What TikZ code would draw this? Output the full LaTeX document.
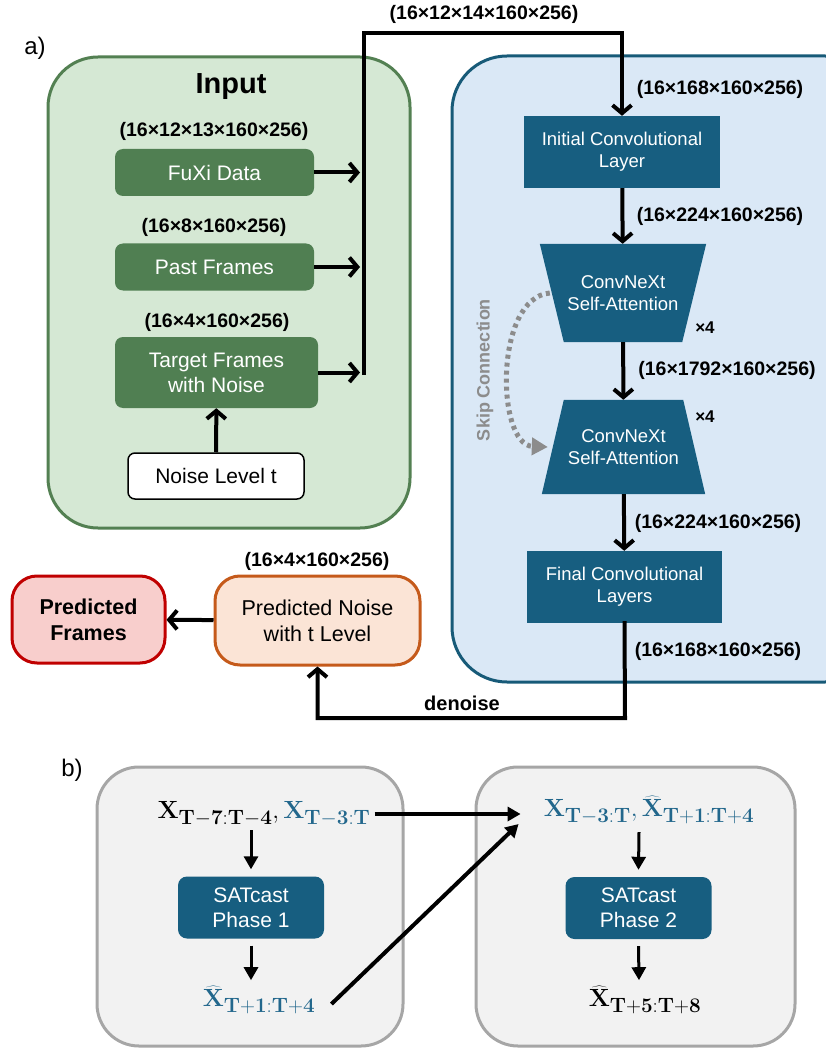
\documentclass[tikz,border=0pt]{standalone}
\usepackage[no-math]{fontspec}
\setmainfont{Liberation Sans}
\usetikzlibrary{arrows.meta,positioning}
\newcommand\bsub[1]{_{\mbox{\fontsize{20}{22}\selectfont$\medmuskip=0mu\thickmuskip=0mu\mathbf{#1}$}}}
\definecolor{gfill}{HTML}{D5E8D4}
\definecolor{gline}{HTML}{538052}
\definecolor{gdark}{HTML}{507F52}
\definecolor{bfill}{HTML}{DAE8F6}
\definecolor{bline}{HTML}{175A78}
\definecolor{bdark}{HTML}{175E80}
\definecolor{pfill}{HTML}{FBE4D6}
\definecolor{pline}{HTML}{C55A1B}
\definecolor{rfill}{HTML}{F8CECC}
\definecolor{rline}{HTML}{C00000}
\definecolor{kfill}{HTML}{F2F2F2}
\definecolor{kline}{HTML}{A6A6A6}
\definecolor{xblue}{HTML}{22678C}
\definecolor{skipc}{HTML}{8C8C8C}
\tikzset{
  gbox/.style={fill=gdark, rounded corners=8pt, text=white, align=center,
    font=\fontsize{21}{25}\selectfont, minimum height=47pt},
  cbox/.style={fill=bdark, text=white, align=center,
    font=\fontsize{18.5}{22}\selectfont},
  dim/.style={font=\bfseries\fontsize{19.5}{23}\selectfont},
  arr/.style={line width=4pt, -{Straight Barb[length=8pt,width=19pt]}},
  barr/.style={line width=4pt, -{Triangle[length=13pt,width=14pt]}},
  mth/.style={font=\fontsize{25}{29}\selectfont, inner sep=0pt}
}
\begin{document}
\begin{tikzpicture}[x=1pt,y=-1pt]
\useasboundingbox (0,0) rectangle (826,1048);
% a) panels
\node[font=\fontsize{24}{28}\selectfont] (la) at (35,48) {a)};
\draw[gline, fill=gfill, line width=3pt, rounded corners=50pt] (48,57) rectangle (410,528);
\draw[bline, fill=bfill, line width=3pt, rounded corners=55pt] (452,56) rectangle (880,682);
\node[font=\bfseries\fontsize{29}{33}\selectfont] (inp) at (231,87) {Input};

% inputs
\node[dim] (dfux) at (214,131) {(16×12×13×160×256)};
\node[gbox, minimum width=199pt] (fux) at (214.5,172.5) {FuXi Data};
\node[dim] (dpast) at (214,227) {(16×8×160×256)};
\node[gbox, minimum width=199pt] (past) at (214.5,267) {Past Frames};
\node[dim] (dtgt) at (217,322) {(16×4×160×256)};
\node[gbox, minimum width=203pt, minimum height=71pt] (tgt) at (216.5,372.5) {Target Frames\\with Noise};
\node[draw, line width=1.5pt, fill=white, rounded corners=7pt, minimum width=176pt, minimum height=46pt,
  font=\fontsize{21}{25}\selectfont] (nlev) at (216,476) {Noise Level t};
\draw[arr] (nlev) -- (tgt);

\coordinate (bus) at (364,33);
\draw[arr] (fux.east) -- ([xshift=-4pt]fux.east -| bus);
\draw[arr] (past.east) -- ([xshift=-4pt]past.east -| bus);
\draw[arr] (tgt.east) -- ([xshift=-4pt]tgt.east -| bus);
\node[dim] (dcat) at (484,14) {(16×12×14×160×256)};

% network
\node[cbox, minimum width=196pt, minimum height=72pt] (init) at (622,152) {Initial Convolutional\\Layer};
\draw[arr, line cap=rect] (bus |- tgt.east) -- (bus) -| (init.north);
\node[dim] (d1) at (720,89) {(16×168×160×256)};

\node[minimum width=166pt, minimum height=98pt, inner sep=0pt] (ca1) at (623,293) {};
\fill[bdark] (ca1.north west) -- (ca1.north east) -- ([xshift=-24pt]ca1.south east) -- ([xshift=24pt]ca1.south west) -- cycle;
\node[cbox, fill=none] (ta1) at (ca1) {ConvNeXt\\Self-Attention};
\node[font=\bfseries\fontsize{17}{19}\selectfont] (x1) at (705,328) {×4};
\draw[arr] (init) -- (ca1);
\node[dim] (d2) at (720,216) {(16×224×160×256)};

\node[minimum width=163pt, minimum height=94pt, inner sep=0pt] (ca2) at (623.5,447) {};
\fill[bdark] ([xshift=22pt]ca2.north west) -- ([xshift=-22pt]ca2.north east) -- (ca2.south east) -- (ca2.south west) -- cycle;
\node[cbox, fill=none] (ta2) at (ca2) {ConvNeXt\\Self-Attention};
\node[font=\bfseries\fontsize{17}{19}\selectfont] (x2) at (705,417) {×4};
\draw[arr] (ca1) -- (ca2);
\node[dim] (d3) at (727,370) {(16×1792×160×256)};

\node[cbox, minimum width=195pt, minimum height=72pt] (final) at (624.5,587) {Final Convolutional\\Layers};
\draw[arr] (ca2) -- (final);
\node[dim] (d4) at (718,523) {(16×224×160×256)};
\node[dim] (d5) at (718,651) {(16×168×160×256)};

% skip connection
\draw[skipc, line width=5pt, dash pattern=on 4pt off 4pt, -{Triangle[length=16pt,width=17pt]}]
  ([xshift=10pt]ca1.west) .. controls (494,298) and (496,445) .. ([xshift=6pt]ca2.west);
\node[skipc, rotate=90, font=\bfseries\fontsize{18}{21}\selectfont] (skl) at (485,370) {Skip Connection};

% outputs
\node[draw=pline, fill=pfill, line width=3pt, rounded corners=25pt, minimum width=205pt, minimum height=89pt,
  align=center, font=\fontsize{21.5}{26}\selectfont] (pnoise) at (317.5,620.5) {Predicted Noise\\with t Level};
\node[dim] (d6) at (317,561) {(16×4×160×256)};
\node[draw=rline, fill=rfill, line width=3pt, rounded corners=25pt, minimum width=153pt, minimum height=87pt,
  align=center, font=\bfseries\fontsize{21.5}{26}\selectfont] (pframes) at (88.5,619.5) {Predicted\\Frames};
\draw[arr] (pnoise) -- (pframes);

\coordinate (dn) at (625,718);
\draw[arr, line cap=rect] (final.south) -- (dn) -| (pnoise.south);
\node[dim, font=\bfseries\fontsize{20}{23}\selectfont] (den) at (462,703) {denoise};

% b)
\node[font=\fontsize{24}{28}\selectfont] (lb) at (72,770) {b)};
\draw[kline, fill=kfill, line width=3pt, rounded corners=42pt] (97,767) rectangle (403,1046);
\draw[kline, fill=kfill, line width=3pt, rounded corners=42pt] (476,767) rectangle (795,1046);

\node[mth] (in1) at (264,814) {$\mathbf{X}\bsub{T-7:T-4},\color{xblue}\mathbf{X}\bsub{T-3:T}$};
\node[cbox, rounded corners=9pt, minimum width=146pt, minimum height=62pt,
  font=\fontsize{21}{25}\selectfont] (ph1) at (251,907.5) {SATcast\\Phase 1};
\node[mth, text=xblue] (out1) at (259,1000) {$\widehat{\mathbf{X}}\bsub{T+1:T+4}$};

\node[mth, text=xblue] (in2) at (649,810) {$\mathbf{X}\bsub{T-3:T},\widehat{\mathbf{X}}\bsub{T+1:T+4}$};
\node[cbox, rounded corners=9pt, minimum width=146pt, minimum height=62pt,
  font=\fontsize{21}{25}\selectfont] (ph2) at (638.5,908) {SATcast\\Phase 2};
\node[mth] (out2) at (645,1000) {$\widehat{\mathbf{X}}\bsub{T+5:T+8}$};

\draw[barr, line width=3pt] ([xshift=-13pt,yshift=-4pt]in1.south) -- ([yshift=7pt]ph1.north);
\draw[barr, line width=3pt] (ph1.south) ++(0,-7pt) -- ([xshift=-8pt,yshift=6pt]out1.north);
\draw[barr, line width=3pt] ([xshift=-10pt]in2.south) ++(0,-8pt) -- ([yshift=7pt]ph2.north);
\draw[barr, line width=3pt] (ph2.south) ++(0,-7pt) -- ([xshift=-6pt,yshift=6pt]out2.north);
\draw[barr] ([xshift=4pt]in1.east) -- ([xshift=-23pt]in1.east -| in2.west);
\draw[barr] ([xshift=16pt,yshift=-4pt]out1.east) -- ([xshift=-25pt,yshift=-14pt]in2.west);
\end{tikzpicture}
\end{document}
